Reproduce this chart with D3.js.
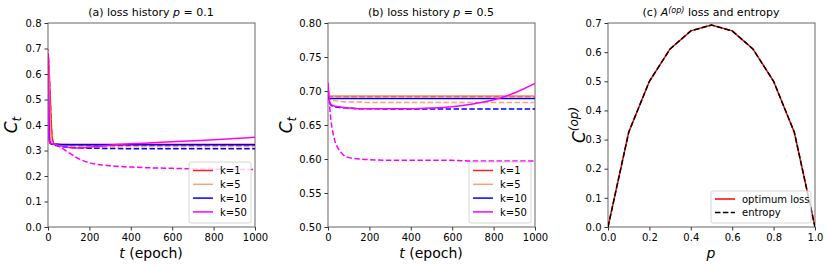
<!DOCTYPE html>
<html>
<head>
<meta charset="utf-8">
<script src="https://cdn.jsdelivr.net/npm/d3@7"></script>
<style>
  body { margin: 0; background: #fff; }
  text { font-family: "DejaVu Sans", sans-serif; }
</style>
</head>
<body>
<script>
// epochs sampled along the loss histories
var epochs = [0, 5, 10, 15, 20, 30, 50, 100, 150, 200, 300, 400, 500, 600, 700, 800, 900, 1000];

// (a) p = 0.1
var a_k1 = [0.695, 0.62, 0.52, 0.42, 0.35, 0.327, 0.325, 0.324, 0.324, 0.324, 0.324, 0.324, 0.324, 0.324, 0.324, 0.324, 0.324, 0.324];
var a_k1d = [0.695, 0.62, 0.52, 0.42, 0.35, 0.326, 0.324, 0.323, 0.322, 0.322, 0.322, 0.322, 0.322, 0.322, 0.322, 0.322, 0.322, 0.322];
var a_k5 = [0.69, 0.55, 0.42, 0.35, 0.33, 0.326, 0.325, 0.325, 0.325, 0.325, 0.325, 0.325, 0.325, 0.325, 0.325, 0.325, 0.325, 0.325];
var a_k5d = [0.69, 0.55, 0.42, 0.35, 0.33, 0.324, 0.32, 0.317, 0.316, 0.315, 0.315, 0.315, 0.315, 0.315, 0.315, 0.315, 0.315, 0.315];
var a_k10 = [0.68, 0.38, 0.33, 0.327, 0.326, 0.325, 0.324, 0.323, 0.323, 0.323, 0.323, 0.323, 0.323, 0.323, 0.323, 0.323, 0.323, 0.323];
var a_k10d = [0.68, 0.38, 0.33, 0.326, 0.324, 0.321, 0.317, 0.312, 0.31, 0.309, 0.308, 0.307, 0.307, 0.307, 0.307, 0.307, 0.307, 0.307];
var a_k50 = [0.68, 0.34, 0.33, 0.328, 0.327, 0.325, 0.32, 0.312, 0.31, 0.313, 0.321, 0.326, 0.33, 0.334, 0.338, 0.342, 0.347, 0.352];
var a_k50d = [0.68, 0.34, 0.33, 0.328, 0.327, 0.325, 0.318, 0.292, 0.267, 0.252, 0.24, 0.235, 0.232, 0.23, 0.228, 0.227, 0.226, 0.225];

// (b) p = 0.5
var b_k1 = [0.694, 0.693, 0.693, 0.693, 0.693, 0.693, 0.693, 0.693, 0.693, 0.693, 0.693, 0.693, 0.693, 0.693, 0.693, 0.693, 0.693, 0.693];
var b_k1d = [0.694, 0.693, 0.692, 0.692, 0.692, 0.692, 0.692, 0.692, 0.692, 0.692, 0.692, 0.692, 0.692, 0.692, 0.692, 0.692, 0.692, 0.692];
var b_k5 = [0.694, 0.693, 0.693, 0.693, 0.693, 0.693, 0.693, 0.693, 0.693, 0.693, 0.693, 0.693, 0.693, 0.693, 0.693, 0.693, 0.693, 0.693];
var b_k5d = [0.694, 0.69, 0.688, 0.687, 0.686, 0.686, 0.685, 0.684, 0.684, 0.683, 0.683, 0.683, 0.683, 0.683, 0.683, 0.683, 0.683, 0.683];
var b_k10 = [0.695, 0.689, 0.689, 0.689, 0.689, 0.689, 0.689, 0.689, 0.689, 0.689, 0.689, 0.689, 0.689, 0.689, 0.689, 0.689, 0.689, 0.689];
var b_k10d = [0.695, 0.686, 0.681, 0.679, 0.678, 0.677, 0.676, 0.675, 0.674, 0.674, 0.6735, 0.6735, 0.6735, 0.6735, 0.6735, 0.6735, 0.6735, 0.6735];
var b_k50 = [0.712, 0.69, 0.683, 0.68, 0.679, 0.678, 0.677, 0.675, 0.674, 0.674, 0.674, 0.674, 0.675, 0.677, 0.681, 0.687, 0.697, 0.711];
var b_k50d = [0.712, 0.69, 0.67, 0.655, 0.645, 0.63, 0.615, 0.602, 0.6, 0.599, 0.598, 0.598, 0.598, 0.598, 0.597, 0.597, 0.597, 0.597];

// (c) optimum loss vs entropy
var pVals = [0, 0.1, 0.2, 0.3, 0.4, 0.5, 0.6, 0.7, 0.8, 0.9, 1.0];
var optLoss = [0, 0.325, 0.500, 0.611, 0.673, 0.693, 0.673, 0.611, 0.500, 0.325, 0];
var entropy = [0, 0.325, 0.500, 0.611, 0.673, 0.693, 0.673, 0.611, 0.500, 0.325, 0];

var kLabels = ["k=1", "k=5", "k=10", "k=50"];
var kColors = ["#ff2020", "#ffa07a", "#0000ff", "#ff00ff"];

var epochTicks = [0, 200, 400, 600, 800, 1000];
var aTicks = [0, 0.1, 0.2, 0.3, 0.4, 0.5, 0.6, 0.7, 0.8];
var bTicks = [0.5, 0.55, 0.6, 0.65, 0.7, 0.75, 0.8];
var cTicks = [0, 0.1, 0.2, 0.3, 0.4, 0.5, 0.6, 0.7];
var pTicks = [0, 0.2, 0.4, 0.6, 0.8, 1.0];

var width = 830, height = 268;
var plotTop = 23, plotBottom = 227, pw = 207;

var svg = d3.select("body").append("svg")
    .attr("width", width)
    .attr("height", height);

function panel(left, xDom, yDom, xTicks, yTicks, xFmt, yFmt) {
    var g = svg.append("g");
    var x = d3.scaleLinear().domain(xDom).range([left, left + pw]);
    var y = d3.scaleLinear().domain(yDom).range([plotBottom, plotTop]);

    var xa = g.append("g").attr("transform", "translate(0," + plotBottom + ")")
        .call(d3.axisBottom(x).tickValues(xTicks).tickFormat(xFmt).tickSizeOuter(0).tickSize(3.5).tickPadding(3));
    var ya = g.append("g").attr("transform", "translate(" + left + ",0)")
        .call(d3.axisLeft(y).tickValues(yTicks).tickFormat(yFmt).tickSizeOuter(0).tickSize(3.5).tickPadding(3));
    [xa, ya].forEach(function(a) {
        a.select(".domain").remove();
        a.selectAll("line").attr("stroke", "#333");
        a.selectAll("text").attr("font-size", 10).attr("fill", "#000")
            .style("font-family", "DejaVu Sans");
    });

    g.append("rect")
        .attr("x", left).attr("y", plotTop)
        .attr("width", pw).attr("height", plotBottom - plotTop)
        .attr("fill", "none").attr("stroke", "#555").attr("stroke-width", 0.9);

    var clip = "clip" + left;
    svg.append("clipPath").attr("id", clip).append("rect")
        .attr("x", left).attr("y", plotTop).attr("width", pw).attr("height", plotBottom - plotTop);
    var plot = g.append("g").attr("clip-path", "url(#" + clip + ")");
    return { g: g, x: x, y: y, plot: plot };
}

function drawLine(p, xs, ys, color, dashed) {
    var line = d3.line()
        .x(function(d, i) { return p.x(xs[i]); })
        .y(function(d) { return p.y(d); })
        .curve(d3.curveMonotoneX);
    p.plot.append("path")
        .datum(ys)
        .attr("d", line)
        .attr("fill", "none")
        .attr("stroke", color)
        .attr("stroke-width", 1.5)
        .attr("stroke-dasharray", dashed ? "5.5,2.4" : null);
}

function title(cx, parts) {
    var t = svg.append("text").attr("x", cx).attr("y", 16)
        .attr("text-anchor", "middle").attr("font-size", 11);
    parts.forEach(function(pt) {
        var s = t.append("tspan").text(pt.s);
        if (pt.i) s.attr("font-style", "italic");
        if (pt.sup) s.attr("font-size", 8).attr("baseline-shift", "40%");
    });
}

function yLabel(cx, cy, main, sub, sup) {
    var t = svg.append("text")
        .attr("transform", "translate(" + cx + "," + cy + ") rotate(-90)")
        .attr("text-anchor", "middle").attr("font-size", 17);
    t.append("tspan").attr("font-style", "italic").text(main);
    if (sub) t.append("tspan").attr("font-style", "italic").attr("font-size", 12).attr("dy", 4).text(sub);
    if (sup) t.append("tspan").attr("font-style", "italic").attr("font-size", 12).attr("dy", -7).text(sup);
}

function epochLabel(cx) {
    var t = svg.append("text").attr("x", cx).attr("y", 258)
        .attr("text-anchor", "middle").attr("font-size", 14);
    t.append("tspan").attr("font-style", "italic").text("t");
    t.append("tspan").text(" (epoch)");
}

function kLegend(left) {
    var lg = svg.append("g");
    lg.append("rect").attr("x", left).attr("y", 162).attr("width", 62).attr("height", 61)
        .attr("rx", 2).attr("fill", "#fff").attr("fill-opacity", 0.8)
        .attr("stroke", "#ccc").attr("stroke-width", 0.8);
    kLabels.forEach(function(lab, i) {
        var yy = 170.5 + i * 13.8;
        lg.append("line").attr("x1", left + 4).attr("x2", left + 24)
            .attr("y1", yy).attr("y2", yy)
            .attr("stroke", kColors[i]).attr("stroke-width", 1.5);
        lg.append("text").attr("x", left + 31).attr("y", yy + 3.6)
            .attr("font-size", 10).text(lab);
    });
}

var f1 = d3.format(".1f"), f2 = d3.format(".2f"), f0 = d3.format("d");

// panel (a)
var pa = panel(48, [0, 1000], [0, 0.8], epochTicks, aTicks, f0, f1);
var aSolid = [a_k1, a_k5, a_k10, a_k50], aDash = [a_k1d, a_k5d, a_k10d, a_k50d];
for (var i = 0; i < 4; i++) drawLine(pa, epochs, aDash[i], kColors[i], true);
for (var i = 0; i < 4; i++) drawLine(pa, epochs, aSolid[i], kColors[i], false);
kLegend(189);
title(151, [{s: "(a) loss history "}, {s: "p", i: true}, {s: " = 0.1"}]);
yLabel(17, 125, "C", "t");
epochLabel(151);

// panel (b)
var pb = panel(328, [0, 1000], [0.5, 0.8], epochTicks, bTicks, f0, f2);
var bSolid = [b_k1, b_k5, b_k10, b_k50], bDash = [b_k1d, b_k5d, b_k10d, b_k50d];
for (var i = 0; i < 4; i++) drawLine(pb, epochs, bDash[i], kColors[i], true);
for (var i = 0; i < 4; i++) drawLine(pb, epochs, bSolid[i], kColors[i], false);
kLegend(469);
title(431, [{s: "(b) loss history "}, {s: "p", i: true}, {s: " = 0.5"}]);
yLabel(292, 125, "C", "t");
epochLabel(431);

// panel (c)
var pc = panel(608, [0, 1], [0, 0.7], pTicks, cTicks, f1, f1);
var straight = d3.line().x(function(d, i) { return pc.x(pVals[i]); }).y(function(d) { return pc.y(d); });
pc.plot.append("path").datum(optLoss).attr("d", straight)
    .attr("fill", "none").attr("stroke", "#ff0000").attr("stroke-width", 1.5);
pc.plot.append("path").datum(entropy).attr("d", straight)
    .attr("fill", "none").attr("stroke", "#000").attr("stroke-width", 1.5)
    .attr("stroke-dasharray", "5.5,2.4");
title(711, [{s: "(c) "}, {s: "A", i: true}, {s: "(op)", i: true, sup: true}, {s: " loss and entropy"}]);
yLabel(585, 125, "C", null, "(op)");
var pl = svg.append("text").attr("x", 711).attr("y", 258).attr("text-anchor", "middle")
    .attr("font-size", 14).attr("font-style", "italic").text("p");

var lc = svg.append("g");
lc.append("rect").attr("x", 711).attr("y", 191).attr("width", 100).attr("height", 32)
    .attr("rx", 2).attr("fill", "#fff").attr("fill-opacity", 0.8)
    .attr("stroke", "#ccc").attr("stroke-width", 0.8);
[["optimum loss", "#ff0000", false], ["entropy", "#000", true]].forEach(function(e, i) {
    var yy = 199 + i * 13.5;
    lc.append("line").attr("x1", 715).attr("x2", 735).attr("y1", yy).attr("y2", yy)
        .attr("stroke", e[1]).attr("stroke-width", 1.5)
        .attr("stroke-dasharray", e[2] ? "5.5,2.4" : null);
    lc.append("text").attr("x", 742).attr("y", yy + 3.6).attr("font-size", 10).text(e[0]);
});
</script>
</body>
</html>
